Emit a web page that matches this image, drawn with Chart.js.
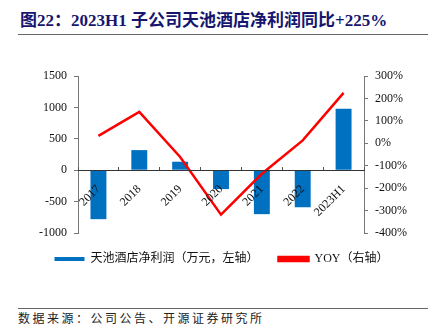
<!DOCTYPE html>
<html>
<head>
<meta charset="utf-8">
<script src="https://cdn.jsdelivr.net/npm/chart.js@4.4.0/dist/chart.umd.min.js"></script>
<style>
  body { margin: 0; width: 443px; height: 333px; background: #fff; position: relative; overflow: hidden; }
  .title { position: absolute; left: 20px; top: 6px; font: bold 17px "Liberation Serif", "Noto Sans CJK SC", serif; color: #16166e; white-space: nowrap; }
  .rule { position: absolute; left: 18px; width: 410px; height: 1px; background: #666; }
  .source { position: absolute; left: 18px; top: 309px; font: 12px "Noto Sans CJK SC", sans-serif; color: #222; letter-spacing: 2.5px; white-space: nowrap; }
  #wrap { position: absolute; left: 0; top: 40px; width: 443px; height: 237px; }
</style>
</head>
<body>
<div class="title">图22：2023H1 子公司天池酒店净利润同比+225%</div>
<div class="rule" style="top:34px"></div>
<div id="wrap"><canvas id="chart"></canvas></div>
<div class="rule" style="top:308px"></div>
<div class="source">数据来源：公司公告、开源证券研究所</div>
<script>
const labels = ["2017", "2018", "2019", "2020", "2021", "2022", "2023H1"];
const profit = [-780, 320, 135, -300, -700, -590, 980];
const yoy = [33, 140, -61, -318, -136, 13, 225];
const leftTicks = [-1000, 1500, 500];
const rightTicks = [-400, 300, 100];

const serif = "'Liberation Serif', 'Times New Roman', 'Noto Sans CJK SC', serif";

let ctx = document.getElementById("chart").getContext("2d");
window.myChart = new Chart(ctx, {
  type: "bar",
  data: {
    labels: labels,
    datasets: [
      {
        label: "天池酒店净利润（万元，左轴）",
        data: profit,
        backgroundColor: "#0070c0",
        yAxisID: "y",
        order: 1,
        categoryPercentage: 1,
        barPercentage: 0.39,
      },
      {
        type: "line",
        label: "YOY（右轴）",
        data: yoy,
        borderColor: "#ff0000",
        backgroundColor: "#ff0000",
        borderWidth: 2.5,
        pointRadius: 0,
        tension: 0,
        yAxisID: "y1",
        order: 0,
      },
    ],
  },
  options: {
    responsive: true,
    maintainAspectRatio: false,
    animation: false,
    layout: { padding: { top: 36, bottom: 2, left: 0, right: 0 } },
    plugins: {
      tooltip: { enabled: false },
      legend: {
        position: "bottom",
        labels: {
          boxWidth: 30,
          boxHeight: 4,
          padding: 20,
          color: "#111",
          font: { family: serif, size: 12 },
          sort: (a, b) => a.datasetIndex - b.datasetIndex,
        },
      },
    },
    scales: {
      x: {
        position: { y: 0 },
        grid: { drawOnChartArea: false, tickLength: -4, color: "#555", z: 1 },
        border: { color: "#333", width: 1, z: 1 },
        ticks: {
          z: 2,
          color: "#111",
          font: { family: serif, size: 12 },
          minRotation: 45,
          maxRotation: 45,
          padding: 16,
          autoSkip: false,
        },
      },
      y: {
        position: "left",
        min: leftTicks[0],
        max: leftTicks[1],
        afterFit: (s) => { s.width = 78; },
        grid: { drawOnChartArea: false, tickLength: 4, color: "#777" },
        border: { color: "#777", width: 1 },
        ticks: {
          stepSize: leftTicks[2],
          color: "#111",
          padding: 7,
          font: { family: serif, size: 12 },
          callback: (v) => String(v),
        },
      },
      y1: {
        position: "right",
        min: rightTicks[0],
        max: rightTicks[1],
        afterFit: (s) => { s.width = 79; },
        grid: { drawOnChartArea: false, tickLength: 4, color: "#777" },
        border: { color: "#777", width: 1 },
        ticks: {
          stepSize: rightTicks[2],
          color: "#111",
          padding: 7,
          font: { family: serif, size: 12 },
          callback: (v) => v + "%",
        },
      },
    },
  },
});
</script>
</body>
</html>
